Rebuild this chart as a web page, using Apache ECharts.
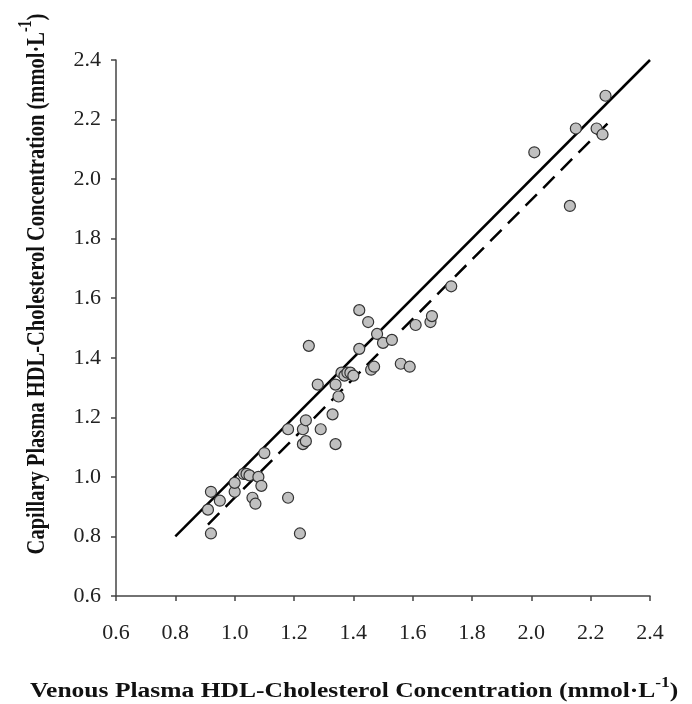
<!DOCTYPE html>
<html>
<head>
<meta charset="utf-8">
<script src="https://cdn.jsdelivr.net/npm/echarts@6/dist/echarts.min.js"></script>
<style>html,body{margin:0;padding:0;background:#fff;}#c{width:692px;height:704px;}</style>
</head>
<body>
<div id="c"></div>
<script>
// Data: venous (x) and capillary (y) HDL-cholesterol, mmol/L
const venous = [0.92,0.95,0.91,0.92,1.00,1.00,1.03,1.04,1.05,1.08,1.09,1.06,1.07,1.10,1.18,1.18,1.22,1.23,1.24,1.23,1.24,1.25,1.28,1.29,1.33,1.34,1.34,1.35,1.36,1.37,1.38,1.39,1.40,1.42,1.42,1.45,1.46,1.47,1.48,1.50,1.53,1.56,1.59,1.61,1.66,1.665,1.73,2.01,2.13,2.15,2.22,2.24,2.25];
const capillary = [0.95,0.92,0.89,0.81,0.95,0.98,1.01,1.01,1.005,1.00,0.97,0.93,0.91,1.08,1.16,0.93,0.81,1.11,1.12,1.16,1.19,1.44,1.31,1.16,1.21,1.11,1.31,1.27,1.35,1.34,1.35,1.35,1.34,1.56,1.43,1.52,1.36,1.37,1.48,1.45,1.46,1.38,1.37,1.51,1.52,1.54,1.64,2.09,1.91,2.17,2.17,2.15,2.28];
const identityLine = [[0.8,0.8],[2.4,2.4]];
const regressionLine = [[0.91,0.84],[2.26,2.19]];
const axisTicks = ['0.6','0.8','1.0','1.2','1.4','1.6','1.8','2.0','2.2','2.4'];
const xTitle = 'Venous Plasma HDL-Cholesterol Concentration (mmol·L';
const yTitle = 'Capillary Plasma HDL-Cholesterol Concentration (mmol·L';

const points = venous.map((v,i)=>[v,capillary[i]]);
const chart = echarts.init(document.getElementById('c'));
const axisCommon = {
  type:'value', min:0.6, max:2.4, interval:0.2,
  axisLine:{show:true, onZero:false, lineStyle:{color:'#444', width:1.5}},
  axisTick:{show:true, length:5, lineStyle:{color:'#444', width:1.5}},
  splitLine:{show:false},
  axisLabel:{color:'#222', fontFamily:'Liberation Serif', fontSize:22,
    formatter:(v)=>axisTicks[Math.round((v-0.6)/0.2)] || ''}
};
const titleFont = {fontFamily:'Liberation Serif', fontWeight:'bold', fill:'#111'};
const rich = {a:Object.assign({fontSize:20.5, lineHeight:26, verticalAlign:'bottom'}, titleFont),
              s:Object.assign({fontSize:14, lineHeight:26, verticalAlign:'top'}, titleFont)};
chart.setOption({
  animation:false,
  backgroundColor:'#fff',
  grid:{left:116, right:42, top:60, bottom:108},
  xAxis:Object.assign({}, axisCommon, {axisLabel:Object.assign({}, axisCommon.axisLabel, {margin:26})}),
  yAxis:Object.assign({}, axisCommon, {axisLabel:Object.assign({}, axisCommon.axisLabel, {margin:15})}),
  series:[
    {type:'line', data:identityLine, symbol:'none', lineStyle:{color:'#000', width:2.5}, z:2},
    {type:'line', data:regressionLine, symbol:'none', lineStyle:{color:'#000', width:2.5, type:[16,9]}, z:2},
    {type:'scatter', data:points, symbolSize:11,
      itemStyle:{color:'#c0c0c0', borderColor:'#333', borderWidth:1.2, opacity:1}, z:3}
  ],
  graphic:[
    {type:'text', x:30, y:676, scaleX:1.245, style:{
      text:'{a|'+xTitle+'}{s|-1}{a|)}', rich:rich
    }},
    {type:'text', x:34, y:284, rotation:Math.PI/2, scaleY:1.28, style:{
      text:'{a|'+yTitle+'}{s|-1}{a|)}', align:'center', verticalAlign:'middle', rich:rich
    }}
  ]
});
</script>
</body>
</html>
